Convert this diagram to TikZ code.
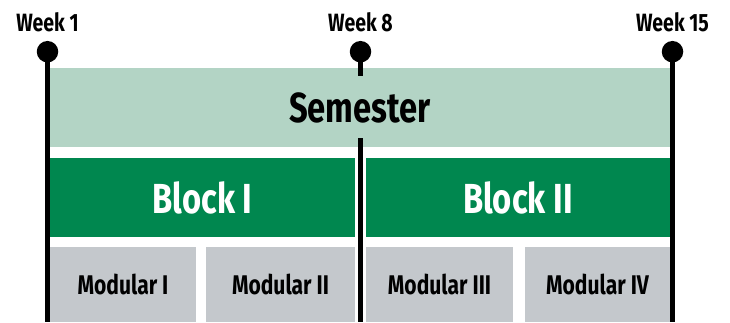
\documentclass[tikz,border=0pt]{standalone}
\usepackage{fontspec}
\setmainfont{Fira Sans}[FakeStretch=0.78]
\usetikzlibrary{positioning}
\definecolor{semgreen}{HTML}{B3D4C5}
\definecolor{blockgreen}{HTML}{00874F}
\definecolor{modgray}{HTML}{C4C8CC}
\begin{document}
\begin{tikzpicture}[x=1pt,y=1pt,font=\bfseries,
	semester/.style={fill=semgreen,minimum width=620pt,minimum height=79pt,inner sep=0pt,font=\fontsize{42}{42}\selectfont\bfseries},
	blockbox/.style={fill=blockgreen,text=white,minimum width=305pt,minimum height=79pt,inner sep=0pt,font=\fontsize{42}{42}\selectfont\bfseries},
	modbox/.style={fill=modgray,minimum height=75pt,inner sep=0pt,font=\fontsize{27}{27}\selectfont\bfseries},
	dot/.style={circle,fill=black,minimum size=21.5pt,inner sep=0pt},
	weeklbl/.style={inner sep=0pt,font=\fontsize{25}{25}\selectfont\bfseries},
	wline/.style={line width=4.5pt}]
	\useasboundingbox (0,0) rectangle (730,322);
	%BOXES
	\node[semester] (sem) at (360,214.5) {Semester};
	\node[blockbox] (b1) at (202.5,124.5) {Block I};
	\node[blockbox,minimum width=304pt] (b2) at (518,124.5) {Block II};
	\node[modbox,minimum width=146pt] (m1) at (123,37.5) {Modular I};
	\node[modbox,minimum width=149pt] (m2) at (280.5,37.5) {Modular II};
	\node[modbox,minimum width=147pt] (m3) at (439.5,37.5) {Modular III};
	\node[modbox,minimum width=145pt] (m4) at (597.5,37.5) {Modular IV};
	%WEEKS
	\node[dot] (w1) at (47.5,270.3) {};
	\node[dot] (w8) at (360.5,270.3) {};
	\node[dot] (w15) at (672.5,270.3) {};
	\node[weeklbl,above=9pt of w1] (l1) {Week 1};
	\node[weeklbl,above=9pt of w8] (l8) {Week 8};
	\node[weeklbl,above=9pt of w15] (l15) {Week 15};
	\coordinate (e1) at (47.5,0);
	\coordinate (e8a) at (360.5,246);
	\coordinate (e8b) at (360.5,184);
	\coordinate (e8) at (360.5,0);
	\coordinate (e15) at (672.5,0);
	\draw[wline] (w1.center) -- (e1);
	\draw[wline] (w8.center) -- (e8a);
	\draw[wline] (e8b) -- (e8);
	\draw[wline] (w15.center) -- (e15);
\end{tikzpicture}
\end{document}
